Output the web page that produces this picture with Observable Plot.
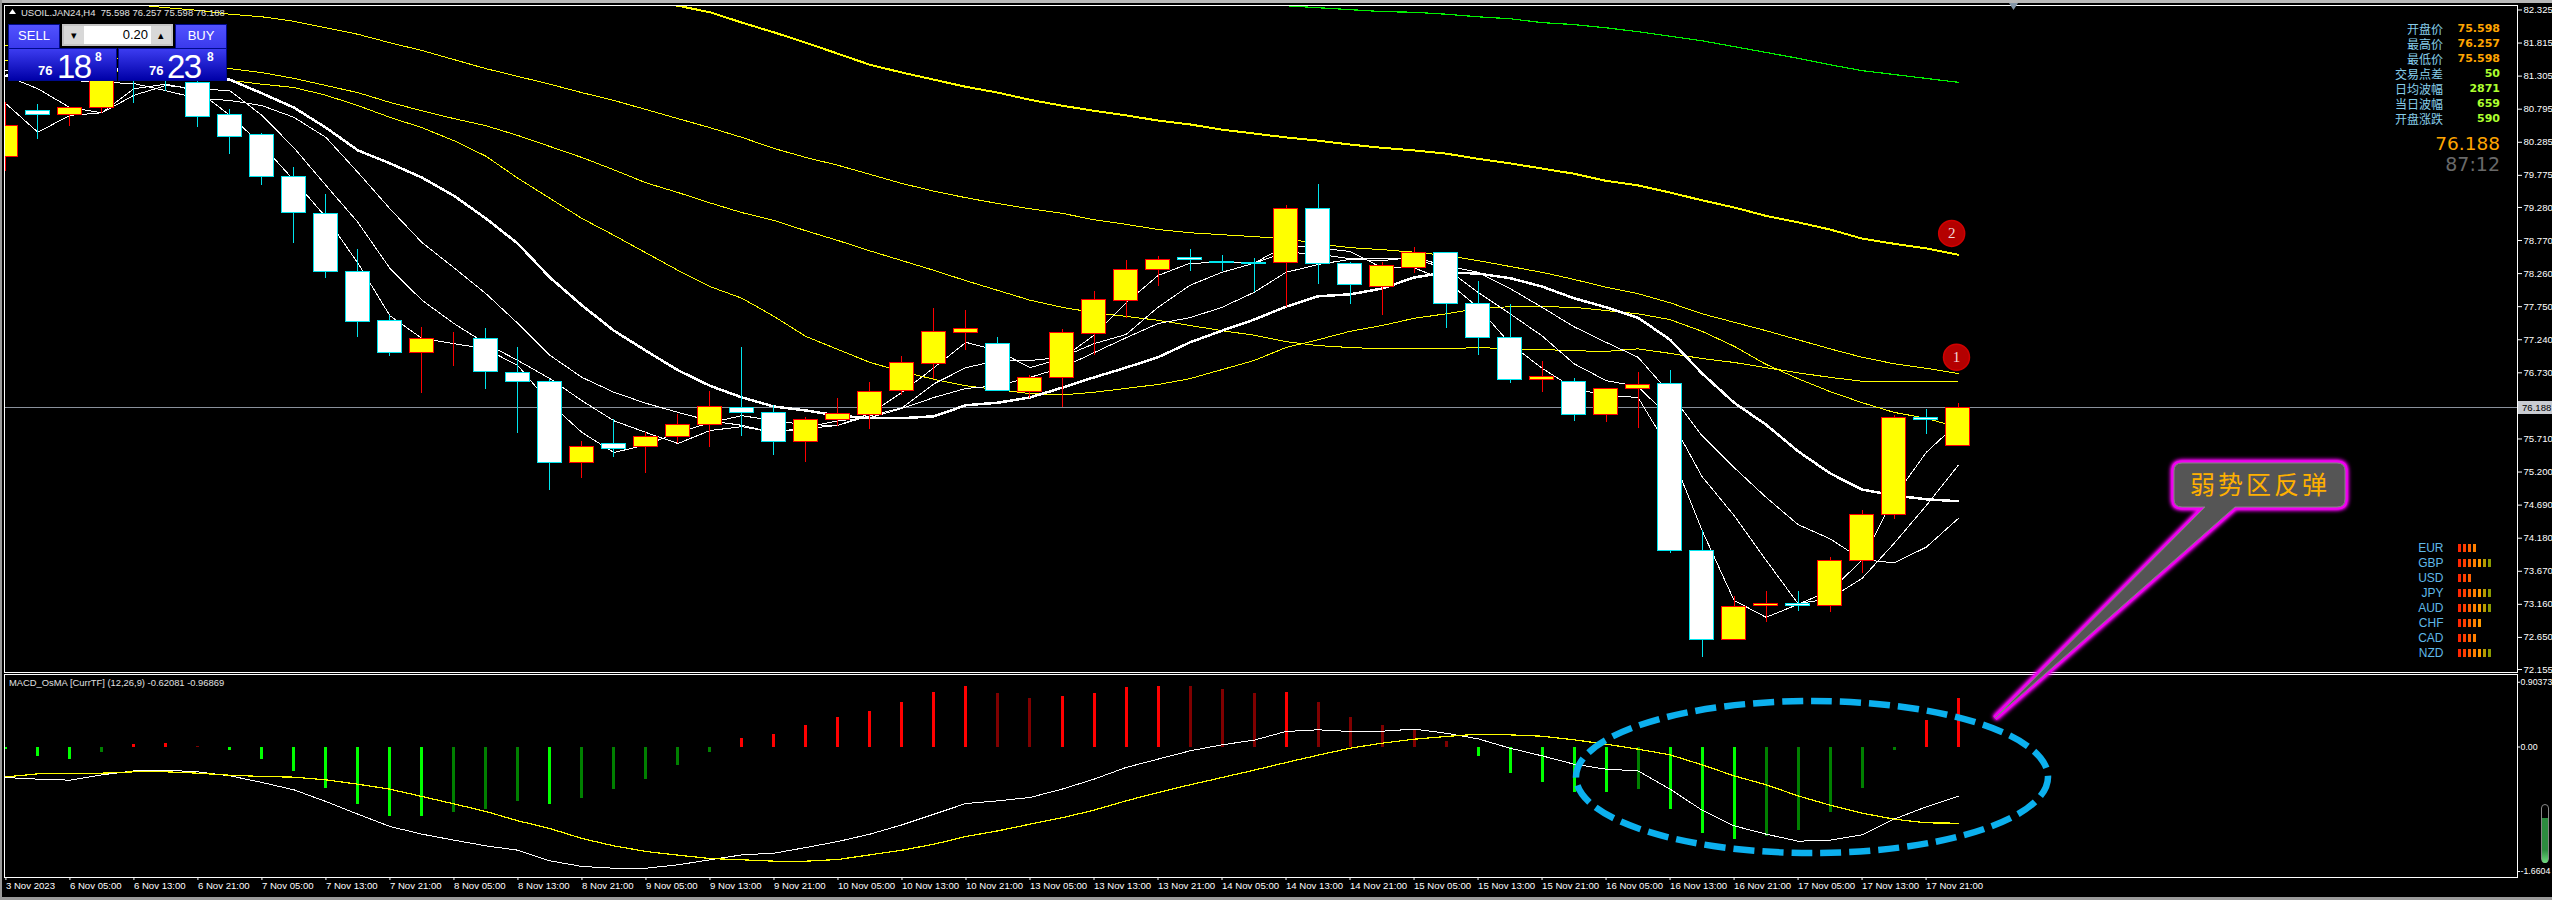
<!DOCTYPE html>
<html>
<head>
<meta charset="utf-8">
<script src="https://cdn.jsdelivr.net/npm/d3@7"></script>
<script src="https://cdn.jsdelivr.net/npm/@observablehq/plot@0.6"></script>
<style>
html,body{margin:0;padding:0;background:#000;width:2552px;height:900px;overflow:hidden}
#page{position:relative;width:2552px;height:900px;background:#000;overflow:hidden;font-family:"Liberation Sans",sans-serif}
#page>*{position:absolute}
.t{white-space:nowrap;line-height:1}
.btn{background:linear-gradient(#5252ff,#3a3aec);color:#fff;font-size:13px;text-align:center;box-sizing:border-box;border:1px solid #000a8c}
.quote{background:linear-gradient(#3c3cf0,#0000a8);color:#fff;box-sizing:border-box;border:1px solid #000a8c}
.quote span{position:absolute;line-height:1}
</style>
</head>
<body>
<div id="page"></div>
<script>
// ---------- Candles, USOIL.JAN24 H4 ----------
const opens = [80.051,80.760,80.698,80.806,81.454,81.392,81.192,80.698,80.390,79.742,79.172,78.277,77.522,77.028,77.244,77.244,76.720,76.581,75.347,75.625,75.579,75.733,75.918,76.180,76.103,75.656,76.010,76.072,76.442,76.859,77.337,77.182,76.427,76.643,77.321,77.830,78.308,78.493,78.435,78.420,78.416,79.249,78.401,78.061,78.354,78.570,77.784,77.260,76.612,76.596,76.072,76.473,76.550,73.975,72.603,73.142,73.158,73.142,73.836,74.530,76.041,75.598];
const highs = [80.899,80.868,80.806,81.392,81.623,81.546,81.330,80.791,80.421,79.896,79.480,78.632,77.614,77.429,77.352,77.414,77.121,76.627,75.671,76.011,75.810,76.088,76.442,77.121,76.226,76.041,76.334,76.581,76.982,77.722,77.691,77.275,76.689,77.398,77.984,78.462,78.524,78.632,78.540,78.493,79.310,79.634,78.431,78.431,78.663,78.570,78.138,77.784,76.905,76.643,76.473,76.735,76.766,74.299,73.281,73.358,73.358,73.883,74.607,76.072,76.165,76.257];
const lows = [79.835,80.328,80.529,80.729,80.883,81.068,80.513,80.097,79.619,78.724,78.185,77.275,76.982,76.411,76.828,76.473,75.795,74.916,75.101,75.425,75.178,75.640,75.579,75.748,75.455,75.347,75.903,75.856,76.380,76.627,77.075,76.442,76.334,76.196,76.997,77.568,78.061,78.293,78.293,77.969,77.738,78.092,77.784,77.614,78.262,77.414,76.997,76.566,76.427,75.980,75.964,75.872,73.944,72.341,72.603,72.880,73.050,73.034,73.636,74.469,75.779,75.598];
const closes = [80.529,80.698,80.806,81.269,81.238,81.269,80.667,80.374,79.742,79.202,78.277,77.506,77.028,77.244,77.244,76.735,76.581,75.347,75.579,75.563,75.748,75.933,76.196,76.103,75.656,75.995,76.088,76.427,76.874,77.352,77.398,76.442,76.643,77.337,77.846,78.308,78.462,78.462,78.420,78.405,79.249,78.401,78.077,78.370,78.570,77.784,77.260,76.612,76.658,76.072,76.473,76.535,73.975,72.603,73.112,73.158,73.142,73.836,74.530,76.041,75.995,76.188];

// ---------- Moving averages on the price panel ----------
const maThick = [81.31,81.36,81.39,81.41,81.41,81.38,81.31,81.25,81.04,80.82,80.51,80.16,79.96,79.74,79.46,79.11,78.72,78.20,77.77,77.38,77.07,76.77,76.53,76.35,76.21,76.15,76.07,76.03,76.03,76.06,76.23,76.27,76.35,76.50,76.66,76.81,76.97,77.20,77.38,77.55,77.75,77.91,77.94,78.03,78.20,78.28,78.26,78.19,78.06,77.88,77.74,77.58,77.24,76.72,76.27,75.93,75.52,75.18,74.93,74.84,74.78,74.75];
const maFast = [80.88,80.44,80.70,80.74,81.11,81.18,81.08,80.70,80.24,79.70,79.13,78.42,77.61,77.26,77.18,77.10,76.84,76.26,75.81,75.50,75.62,75.81,75.96,76.07,75.99,75.93,75.92,76.10,76.43,76.81,77.20,77.07,76.81,76.95,77.31,77.81,78.23,78.42,78.43,78.42,78.69,78.66,78.60,78.35,78.35,78.15,77.74,77.18,76.80,76.49,76.38,76.35,75.53,74.30,73.22,72.96,73.16,73.37,73.84,74.81,75.50,75.96];
const maMid = [81.31,81.11,80.82,80.74,81.01,81.16,81.11,81.08,80.70,80.20,79.62,79.05,78.34,77.85,77.49,77.18,76.92,76.64,76.30,75.99,75.81,75.64,75.84,75.90,75.81,75.87,75.92,76.07,76.19,76.56,76.81,76.92,76.92,76.97,77.18,77.32,77.74,78.08,78.28,78.42,78.59,78.56,78.49,78.49,78.49,78.34,77.97,77.64,77.30,76.87,76.61,76.52,76.03,75.13,74.53,73.84,73.17,73.25,73.56,74.10,74.68,75.30];
const maSlow = [81.39,81.31,81.24,81.21,81.19,81.08,80.96,80.93,80.85,80.67,80.36,79.82,79.26,78.74,78.35,77.95,77.49,77.00,76.66,76.43,76.26,76.12,75.99,75.92,75.81,75.89,75.99,76.04,76.18,76.35,76.49,76.53,76.66,76.81,77.04,77.27,77.49,77.58,77.74,77.97,78.28,78.40,78.48,78.46,78.51,78.38,78.28,78.03,77.74,77.44,77.20,76.97,76.41,75.76,75.27,74.81,74.39,74.17,73.85,73.80,74.04,74.48];
const yellowA = [81.78,81.70,81.64,81.59,81.55,81.50,81.47,81.42,81.36,81.27,81.16,81.05,80.90,80.77,80.65,80.54,80.39,80.22,80.05,79.86,79.66,79.51,79.35,79.20,79.08,78.92,78.77,78.61,78.46,78.31,78.15,78.00,77.85,77.74,77.66,77.60,77.54,77.46,77.38,77.31,77.21,77.15,77.12,77.10,77.10,77.10,77.12,77.10,77.09,77.07,77.06,77.10,77.03,76.95,76.89,76.81,76.73,76.66,76.60,76.60,76.60,76.60];
const yellowB = [81.55,81.50,81.45,81.39,81.35,81.30,81.27,81.24,81.18,81.13,81.01,80.85,80.67,80.51,80.31,80.07,79.73,79.42,79.11,78.85,78.58,78.31,78.06,77.88,77.60,77.29,77.09,76.89,76.75,76.63,76.53,76.47,76.41,76.39,76.43,76.49,76.55,76.64,76.78,76.92,77.12,77.24,77.37,77.46,77.57,77.64,77.72,77.75,77.75,77.74,77.69,77.64,77.55,77.37,77.14,76.86,76.64,76.44,76.27,76.12,76.03,75.89];
const yellowTopStart = 3;
const yellowTop = [82.46,82.41,82.36,82.32,82.26,82.22,82.15,82.05,81.95,81.82,81.70,81.56,81.42,81.30,81.18,81.05,80.93,80.79,80.65,80.51,80.36,80.19,80.05,79.93,79.79,79.65,79.53,79.43,79.34,79.26,79.19,79.09,79.02,78.94,78.89,78.86,78.83,78.80,78.72,78.66,78.63,78.59,78.54,78.46,78.37,78.28,78.17,78.05,77.95,77.81,77.64,77.51,77.38,77.24,77.10,76.97,76.87,76.80,76.72];
const yellowThickStart = 20;
const yellowThick = [82.47,82.39,82.29,82.13,81.98,81.82,81.65,81.48,81.36,81.25,81.14,81.05,80.94,80.85,80.77,80.70,80.62,80.56,80.48,80.42,80.36,80.31,80.25,80.20,80.16,80.11,80.03,79.96,79.88,79.80,79.69,79.62,79.51,79.39,79.28,79.15,79.05,78.94,78.80,78.72,78.65,78.55];
const greenStart = 39;
const greenLine = [82.42,82.39,82.36,82.33,82.30,82.29,82.26,82.22,82.19,82.13,82.10,82.05,81.99,81.92,81.85,81.76,81.67,81.58,81.48,81.39,81.33,81.27,81.21];

// ---------- MACD_OsMA panel ----------
const histValues = [-0.027,-0.133,-0.173,-0.067,0.027,0.053,0.007,-0.04,-0.173,-0.32,-0.547,-0.76,-0.92,-0.933,-0.867,-0.827,-0.733,-0.76,-0.68,-0.573,-0.427,-0.253,-0.067,0.107,0.173,0.293,0.387,0.48,0.60,0.733,0.813,0.707,0.653,0.667,0.72,0.787,0.813,0.813,0.773,0.707,0.733,0.587,0.40,0.293,0.227,0.067,-0.133,-0.347,-0.467,-0.60,-0.60,-0.56,-0.827,-1.147,-1.227,-1.187,-1.107,-0.867,-0.547,-0.053,0.36,0.653];
const histStates = "g g g d r r m g g g g g g g d d d g d d d d d r r r r r r r r m m r r r r m m m r m m m m m g g g g g d g g g d d d d d r r".split(" ");
const macdWhite = [-0.407,-0.429,-0.442,-0.371,-0.318,-0.309,-0.331,-0.384,-0.473,-0.571,-0.727,-0.896,-1.06,-1.162,-1.242,-1.318,-1.376,-1.518,-1.593,-1.616,-1.616,-1.571,-1.504,-1.438,-1.416,-1.34,-1.26,-1.162,-1.038,-0.896,-0.753,-0.718,-0.673,-0.562,-0.429,-0.273,-0.162,-0.051,0.029,0.091,0.207,0.229,0.207,0.211,0.238,0.184,0.109,-0.016,-0.118,-0.229,-0.296,-0.318,-0.562,-0.842,-1.051,-1.162,-1.256,-1.242,-1.171,-0.962,-0.798,-0.656];
const macdYellow = [-0.398,-0.358,-0.349,-0.349,-0.331,-0.331,-0.349,-0.376,-0.393,-0.402,-0.438,-0.496,-0.562,-0.66,-0.758,-0.86,-0.984,-1.087,-1.22,-1.318,-1.393,-1.442,-1.487,-1.504,-1.522,-1.522,-1.5,-1.438,-1.376,-1.296,-1.193,-1.118,-1.029,-0.944,-0.842,-0.718,-0.607,-0.504,-0.407,-0.309,-0.207,-0.109,-0.016,0.051,0.104,0.14,0.171,0.162,0.144,0.096,0.038,-0.029,-0.104,-0.238,-0.384,-0.504,-0.651,-0.776,-0.882,-0.962,-1.011,-1.016];

// ---------- Axis labels ----------
const priceTicks = [82.325,81.815,81.305,80.795,80.285,79.775,79.280,78.770,78.260,77.750,77.240,76.730,75.710,75.200,74.690,74.180,73.670,73.160,72.650,72.155];
const macdTicks = [0.90373,0,-1.6604];
const macdTickLabels = ["0.90373","0.00","-1.6604"];
const timeLabels = ["3 Nov 2023","6 Nov 05:00","6 Nov 13:00","6 Nov 21:00","7 Nov 05:00","7 Nov 13:00","7 Nov 21:00","8 Nov 05:00","8 Nov 13:00","8 Nov 21:00","9 Nov 05:00","9 Nov 13:00","9 Nov 21:00","10 Nov 05:00","10 Nov 13:00","10 Nov 21:00","13 Nov 05:00","13 Nov 13:00","13 Nov 21:00","14 Nov 05:00","14 Nov 13:00","14 Nov 21:00","15 Nov 05:00","15 Nov 13:00","15 Nov 21:00","16 Nov 05:00","16 Nov 13:00","16 Nov 21:00","17 Nov 05:00","17 Nov 13:00","17 Nov 21:00"];
const bidPrice = 76.188;

// ---------- Numbered badges ----------
const badgeLabels = ["2","1"];
const badgeBar = [60.8,60.95];
const badgePrice = [78.88,76.97];

// ---------- Top-right info block ----------
const infoLabels = ["开盘价","最高价","最低价","交易点差","日均波幅","当日波幅","开盘涨跌"];
const infoValues = ["75.598","76.257","75.598","50","2871","659","590"];
const countdown = "87:12";

// ---------- Currency strength ----------
const currencies = ["EUR","GBP","USD","JPY","AUD","CHF","CAD","NZD"];
const strengths = [4,7,3,7,7,5,4,7];
const strengthColors = ["#ff2600","#ff4000","#ff6000","#ff7f00","#ff9a00","#b89a00","#8a9a00"];

// ---------- Build rows ----------
const candles = opens.map((o,i)=>({i,o,h:highs[i],l:lows[i],c:closes[i]}));
const up = candles.filter(d=>d.c>=d.o), down = candles.filter(d=>d.c<d.o);
const series = (vals,start=0)=>vals.map((v,k)=>({i:k+start,v}));
const bars = histValues.map((v,i)=>({i,v,s:histStates[i]}));

const page = document.getElementById("page");
const axisFont = {fontFamily:"Liberation Sans, sans-serif",fontSize:9.6};
const xDomain = [-0.04375,78.48];   // candle slots shown across the panels
const crisp = {shapeRendering:"crispEdges"};
const ln = (vals,start,stroke,w)=>Plot.line(series(vals,start),{x:"i",y:"v",stroke,strokeWidth:w,clip:true,...crisp});

// ---------- Price panel ----------
const price = Plot.plot({
  width:2552,height:673,marginLeft:4,marginRight:35,marginTop:5,marginBottom:1,
  style:{background:"transparent",color:"#fff",overflow:"visible"},
  x:{domain:xDomain,axis:null},
  y:{domain:[72.109,82.394],axis:null},
  marks:[
    Plot.ruleY([bidPrice],{stroke:"#8a919c",strokeWidth:1,...crisp}),
    ln(yellowTop,yellowTopStart,"#ffff00",1),
    ln(yellowA,0,"#ffff00",1),
    ln(yellowB,0,"#ffff00",1),
    ln(yellowThick,yellowThickStart,"#ffff00",2),
    ln(greenLine,greenStart,"#00f000",1.2),
    ln(maSlow,0,"#ffffff",1),
    ln(maMid,0,"#ffffff",1),
    ln(maFast,0,"#ffffff",1),
    ln(maThick,0,"#ffffff",2.5),
    Plot.ruleX(up,{x:"i",y1:"l",y2:"h",stroke:"#ff0000",strokeWidth:1,clip:true,...crisp}),
    Plot.ruleX(down,{x:"i",y1:"l",y2:"h",stroke:"#00e5ee",strokeWidth:1,clip:true,...crisp}),
    Plot.rect(up,{x1:d=>d.i-0.375,x2:d=>d.i+0.375,y1:"o",y2:"c",fill:"#ffff00",stroke:"#ff0000",strokeWidth:1,clip:true,...crisp}),
    Plot.rect(down,{x1:d=>d.i-0.375,x2:d=>d.i+0.375,y1:"o",y2:"c",fill:"#ffffff",stroke:"#00e5ee",strokeWidth:1,clip:true,...crisp}),
    Plot.dot(badgeLabels,{x:(d,k)=>badgeBar[k],y:(d,k)=>badgePrice[k],r:13,fill:"#b40000",stroke:"#d00000",strokeWidth:1.5}),
    Plot.text(badgeLabels,{x:(d,k)=>badgeBar[k],y:(d,k)=>badgePrice[k],text:d=>d,fill:"#f0d8d8",fontSize:15,fontFamily:"Liberation Serif, serif"}),
    Plot.frame({stroke:"#ffffff",strokeWidth:1}),
    Plot.axisY({anchor:"right",ticks:priceTicks,tickFormat:d3.format(".3f"),tickSize:4,tickPadding:2,color:"#ffffff",label:null,...axisFont})
  ]
});
price.style.cssText+=";position:absolute;left:0;top:0";
page.appendChild(price);

// ---------- MACD panel ----------
const barRule = (state,stroke)=>Plot.ruleX(bars.filter(d=>d.s===state),{x:"i",y1:0,y2:"v",stroke,strokeWidth:3,...crisp});
const macdLabel = d=>macdTickLabels[macdTicks.indexOf(d)];
const macdAxisFont = {fontFamily:"Liberation Sans, sans-serif",fontSize:8.8};
const macd = Plot.plot({
  width:2552,height:226,marginLeft:4,marginRight:35,marginTop:0,marginBottom:23,
  style:{background:"transparent",color:"#fff",overflow:"visible"},
  x:{domain:xDomain,axis:null},
  y:{domain:[-1.74,0.9667],axis:null},
  marks:[
    barRule("g","#00ff00"),barRule("d","#008000"),barRule("r","#ff0000"),barRule("m","#800000"),
    ln(macdWhite,0,"#ffffff",1),
    ln(macdYellow,0,"#ffff00",1.2),
    Plot.frame({stroke:"#ffffff",strokeWidth:1}),
    Plot.axisY({anchor:"right",ticks:macdTicks.slice(1),tickFormat:macdLabel,tickSize:2,tickPadding:1,color:"#ffffff",label:null,...macdAxisFont}),
    Plot.axisY({anchor:"right",ticks:macdTicks.slice(0,1),tickFormat:macdLabel,tickSize:2,tickPadding:1,color:"#ffffff",label:null,dy:3,...macdAxisFont}),
    Plot.axisX({anchor:"bottom",ticks:timeLabels.map((_,k)=>k*2),tickFormat:d=>timeLabels[d/2],textAnchor:"start",tickSize:3,tickPadding:2,color:"#ffffff",label:null,...axisFont})
  ]
});
macd.style.cssText+=";position:absolute;left:0;top:674px";
page.appendChild(macd);

// ---------- Annotation overlay ----------
const ns = d3.select(page).append("svg").attr("width",2552).attr("height",900)
  .style("left","0").style("top","0").style("pointer-events","none");
ns.append("ellipse").attr("cx",1812).attr("cy",777).attr("rx",236).attr("ry",76)
  .attr("fill","none").attr("stroke","#0cb0ee").attr("stroke-width",6.5).attr("stroke-dasharray","21 8");
const callout = "M2182,463H2337Q2345,463 2345,471V499Q2345,507 2337,507H2235L1995,718L2205,507H2182Q2174,507 2174,499V471Q2174,463 2182,463Z";
ns.append("path").attr("d",callout).attr("fill","#555").attr("stroke","#f000f0").attr("stroke-width",5)
  .style("filter","drop-shadow(0 0 2px #ff00ff) drop-shadow(0 0 1px #ff00ff)");
ns.append("path").attr("d",callout).attr("fill","#555").attr("stroke","#858585").attr("stroke-width",1);
ns.append("text").attr("x",2260).attr("y",483).attr("text-anchor","middle").attr("dominant-baseline","central")
  .attr("fill","#ffb000").attr("font-size",25).attr("letter-spacing",3).attr("font-family","Noto Sans CJK SC").text("弱势区反弹");
ns.append("path").attr("d","M9,9L16,9L12.5,14Z").attr("transform","translate(0,0) rotate(180 12.5 11.5)").attr("fill","#fff");
ns.append("path").attr("d","M2009,3H2018L2013.5,10Z").attr("fill","#8496a8");

// Chart chrome
function el(html,css){const d=document.createElement("div");d.innerHTML=html;d.style.cssText=css;page.appendChild(d);return d;}
el("","left:0;top:0;width:2552px;height:3px;background:#b8b8b8");
el("","left:0;top:897px;width:2552px;height:3px;background:#9a9a9a");
el("","left:0;top:0;width:2px;height:900px;background:#9a9a9a");
el("USOIL.JAN24,H4&nbsp; 75.598 76.257 75.598 76.188","left:21px;top:7px;color:#e0e0e0;font-size:9.5px;white-space:nowrap;line-height:12px");
el("MACD_OsMA [CurrTF] (12,26,9) -0.62081 -0.96869","left:9px;top:677px;color:#e0e0e0;font-size:9.4px;white-space:nowrap;line-height:12px");

// Bid price tag
el(d3.format(".3f")(bidPrice),"left:2518px;top:401px;width:34px;height:13px;background:#c9ccd2;color:#000;font-size:9.6px;line-height:13px;text-align:left;padding-left:4px;box-sizing:border-box");

// One-click trading panel
el("SELL","left:8px;top:24px;width:52px;height:25px;line-height:21px;").className="btn";
el("BUY","left:175px;top:24px;width:52px;height:25px;line-height:21px;").className="btn";
el("","left:62px;top:24px;width:111px;height:22px;background:#d8d8d8;box-sizing:border-box;border:2px solid #c4c4c4");
el("","left:84px;top:26px;width:67px;height:18px;background:#fff");
el("0.20","left:84px;top:26px;width:64px;height:18px;color:#000;font-size:13px;line-height:18px;text-align:right");
el("▾","left:64px;top:26px;width:20px;height:18px;color:#000;font-size:11px;line-height:18px;text-align:center");
el("▴","left:151px;top:26px;width:20px;height:18px;color:#000;font-size:11px;line-height:18px;text-align:center");
function quote(left,big,smallLeft,bigLeft,supLeft){
  const q=document.createElement("div");q.className="quote";
  q.style.cssText=`left:${left}px;top:48px;width:109px;height:33px`;
  q.innerHTML=`<span style="left:${smallLeft}px;top:15px;font-size:13px;font-weight:bold">76</span><span style="left:${bigLeft}px;top:1px;font-size:33px;letter-spacing:-1.5px;font-family:'Liberation Sans'">${big}</span><span style="left:${supLeft}px;top:2px;font-size:12px;font-weight:bold">8</span>`;
  page.appendChild(q);
}
quote(8,"18",29,48,86);
quote(118,"23",30,48,88);

// Top-right info block
infoLabels.forEach((t,k)=>{
  const y=21+15*k;
  el(t,`left:2340px;top:${y}px;width:103px;text-align:right;color:#87ceeb;font-size:12px;line-height:15px;font-family:'Noto Sans CJK SC';white-space:nowrap`);
  el(infoValues[k],`left:2440px;top:${y}px;width:60px;text-align:right;color:${k<3?"#ffa500":"#adff2f"};font-size:11px;line-height:15px;font-weight:bold;font-family:'DejaVu Sans'`);
});
el(d3.format(".3f")(bidPrice),"left:2400px;top:133px;width:100px;text-align:right;color:#ffa500;font-size:18.5px;line-height:22px;font-family:'DejaVu Sans'");
el(countdown,"left:2400px;top:153px;width:100px;text-align:right;color:#696969;font-size:19px;line-height:22px;font-family:'DejaVu Sans'");

// Currency strength
const strengthRows = currencies.flatMap((c,r)=>d3.range(strengths[r]).map(k=>({c,k})));
const strengthPlot = Plot.plot({
  width:130,height:120,marginLeft:78,marginRight:2,marginTop:0,marginBottom:0,
  style:{background:"transparent",overflow:"visible"},
  x:{domain:[0,10],range:[78,128],axis:null},
  y:{domain:currencies,paddingInner:0.47,paddingOuter:0.235,axis:null},
  marks:strengthColors.map((col,k)=>Plot.barX(strengthRows.filter(d=>d.k===k),{x1:"k",x2:d=>d.k+0.62,y:"c",fill:col,...crisp}))
    .concat([Plot.axisY({anchor:"left",tickSize:0,tickPadding:15,color:"#5fb8e8",label:null,fontFamily:"Liberation Sans, sans-serif",fontSize:12})])
});
strengthPlot.style.cssText+=";position:absolute;left:2380px;top:540px";
page.appendChild(strengthPlot);

// Margin level tube
el("","left:2541px;top:804px;width:8px;height:59px;border:1px solid #888;border-radius:4px;box-sizing:border-box");
el("","left:2542px;top:818px;width:6px;height:45px;border-radius:0 0 3px 3px;background:linear-gradient(#2c8c40 70%,#6fdc80)");
</script>
</body>
</html>
